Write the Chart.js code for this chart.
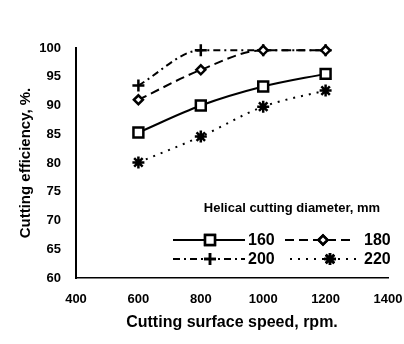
<!DOCTYPE html>
<html>
<head>
<meta charset="utf-8">
<script src="https://cdn.jsdelivr.net/npm/chart.js@4/dist/chart.umd.min.js"></script>
<style>
  html, body { margin: 0; padding: 0; background: #fff; }
  #wrap { width: 404px; height: 344px; }
</style>
</head>
<body>
<div id="wrap"><canvas id="chart"></canvas></div>
<script>
const speeds = [600, 800, 1000, 1200];
const eff160 = [85.3, 90, 93.3, 95.5];
const eff180 = [91, 96.2, 99.6, 99.6];
const eff200 = [93.5, 99.6, 99.6, 99.6];
const eff220 = [80.1, 84.6, 89.8, 92.6];
const seriesLabels = ['160', '180', '200', '220'];
const xTicks = [400, 600, 800, 1000, 1200, 1400];
const yTicks = [60, 65, 70, 75, 80, 85, 90, 95, 100];

const FONT = 'Liberation Sans, Arial, sans-serif';

function pts(vals) {
  return speeds.map((s, i) => ({ x: s, y: vals[i] }));
}

function ds(label, vals, style, radius, dash) {
  return {
    label: label,
    data: pts(vals),
    borderColor: '#000',
    backgroundColor: '#fff',
    borderWidth: 2,
    borderDash: dash,
    pointStyle: style,
    pointRadius: radius,
    pointBorderWidth: 2.5,
    pointBorderColor: '#000',
    pointBackgroundColor: '#fff',
    cubicInterpolationMode: 'monotone',
    clip: false
  };
}

// legend drawn inside the plot, two columns like the original
const insideLegend = {
  id: 'insideLegend',
  afterDraw(chart) {
    const ctx = chart.ctx;
    ctx.save();
    ctx.fillStyle = '#000';
    ctx.font = 'bold 13px ' + FONT;
    ctx.textAlign = 'center';
    ctx.textBaseline = 'middle';
    ctx.fillText('Helical cutting diameter, mm', 292, 208);

    // [line start, line end, marker x, text x, y]
    const cells = [[173, 245, 210, 248, 240], [285, 354, 323, 364, 240],
                   [173, 245, 210, 248, 259], [290, 362, 330, 364, 259]];
    chart.data.datasets.forEach((d, i) => {
      const [x0, x1, mx, tx, y0] = cells[i];
      ctx.strokeStyle = '#000';
      ctx.lineWidth = 2;
      ctx.setLineDash(d.borderDash || []);
      ctx.beginPath();
      ctx.moveTo(x0, y0);
      ctx.lineTo(x1, y0);
      ctx.stroke();
      ctx.setLineDash([]);
      ctx.lineWidth = 2.5;
      Chart.helpers.drawPoint(ctx, {
        pointStyle: d.pointStyle, radius: d.pointRadius, borderWidth: 2.5, rotation: 0
      }, mx, y0);
      ctx.fillStyle = d.pointBackgroundColor;
      ctx.fill();
      ctx.stroke();
      ctx.fillStyle = '#000';
      ctx.font = 'bold 16px ' + FONT;
      ctx.textAlign = 'left';
      ctx.fillText(d.label, tx, y0 + 1);
    });
    ctx.restore();
  }
};

new Chart(document.getElementById('chart'), {
  type: 'line',
  data: {
    datasets: [
      ds(seriesLabels[0], eff160, 'rect', 7, []),
      ds(seriesLabels[1], eff180, 'rectRot', 4.5, [9, 5]),
      ds(seriesLabels[2], eff200, 'cross', 6, [7, 4, 2, 4]),
      ds(seriesLabels[3], eff220, 'star', 6, [2, 6])
    ]
  },
  options: {
    responsive: true,
    maintainAspectRatio: false,
    animation: false,
    layout: { padding: { top: 48, right: 0, left: 13, bottom: 8 } },
    plugins: {
      legend: { display: false },
      tooltip: { enabled: false }
    },
    scales: {
      x: {
        type: 'linear',
        min: 400,
        max: 1400,
        afterBuildTicks: axis => { axis.ticks = xTicks.map(v => ({ value: v })); },
        afterFit: axis => {
          axis.height = 58;
          axis.paddingLeft = 0;
          axis.paddingRight = 16;
        },
        grid: { display: false, drawTicks: false },
        border: { color: '#000', width: 1.5, dash: [6, 4] },
        ticks: {
          color: '#000', padding: 14, maxRotation: 0,
          font: { family: FONT, size: 13, weight: 'bold' },
          callback: v => String(v)
        },
        title: { display: true, text: 'Cutting surface speed, rpm.', color: '#000', padding: { top: 5, bottom: 4 }, font: { family: FONT, size: 16, weight: 'bold' } }
      },
      y: {
        min: 60,
        max: 100,
        afterBuildTicks: axis => { axis.ticks = yTicks.map(v => ({ value: v })); },
        afterFit: axis => { axis.width = 63; },
        grid: { display: false, drawTicks: false },
        border: { color: '#000', width: 2 },
        ticks: { color: '#000', padding: 15, font: { family: FONT, size: 13, weight: 'bold' } },
        title: { display: true, text: 'Cutting efficiency, %.', color: '#000', padding: { top: 4, bottom: 3 }, font: { family: FONT, size: 15, weight: 'bold' } }
      }
    }
  },
  plugins: [insideLegend]
});
</script>
</body>
</html>
